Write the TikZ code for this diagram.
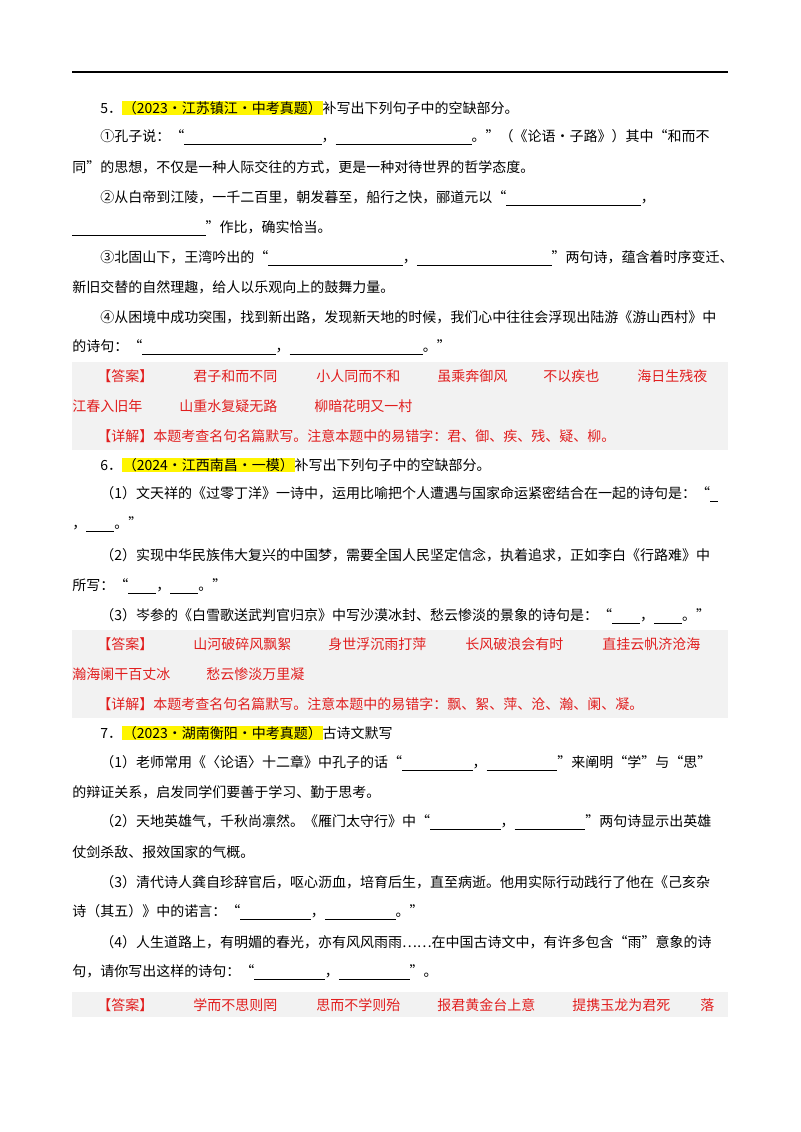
\documentclass[tikz,border=0pt]{standalone}
\usepackage{fontspec}
\setmainfont{Noto Sans CJK SC}
\definecolor{ans}{RGB}{225,30,30}
\definecolor{bg}{RGB}{242,242,242}
\definecolor{hl}{RGB}{255,245,0}
\newcommand\bl[1]{\rule[-2pt]{#1}{0.5pt}}
\newcommand\hlt[1]{{\setlength\fboxsep{0.6pt}\colorbox{hl}{#1}}}
\begin{document}
\begin{tikzpicture}[x=0.75pt,y=-0.75pt,
  t/.style={anchor=west,inner sep=0pt,font=\fontsize{10.5pt}{12pt}\selectfont},
  a/.style={t,text=ans}]
\useasboundingbox (0,0) rectangle (800,1132);
\fill[white] (0,0) rectangle (800,1132);
\draw[line width=0.8pt] (72,72) -- (728,72);
\fill[bg] (72,362) rectangle (728,450);
\fill[bg] (72,630) rectangle (728,718);
\fill[bg] (72,992) rectangle (728,1017);
% Q5
\node[t] (q5) at (100,108) {5．\hlt{（2023·江苏镇江·中考真题）}补写出下列句子中的空缺部分。};
\node[t] (l1) at (100,137) {①孔子说：“\bl{103pt}，\bl{102pt}。”（《论语·子路》）其中“和而不};
\node[t] (l2) at (72,167) {同”的思想，不仅是一种人际交往的方式，更是一种对待世界的哲学态度。};
\node[t] (l3) at (100,198) {②从白帝到江陵，一千二百里，朝发暮至，船行之快，郦道元以“\bl{101pt}，};
\node[t] (l4) at (72,228) {\bl{100pt}”作比，确实恰当。};
\node[t] (l5) at (100,258) {③北固山下，王湾吟出的“\bl{101pt}，\bl{101pt}”两句诗，蕴含着时序变迁、};
\node[t] (l6) at (72,287) {新旧交替的自然理趣，给人以乐观向上的鼓舞力量。};
\node[t] (l7) at (100,317) {④从困境中成功突围，找到新出路，发现新天地的时候，我们心中往往会浮现出陆游《游山西村》中};
\node[t] (l8) at (72,347) {的诗句：“\bl{100pt}，\bl{100pt}。”};
\node[a] (a5) at (97,376) {【答案】};
\node[a] (a51) at (193,376) {君子和而不同};
\node[a] (a52) at (316,376) {小人同而不和};
\node[a] (a53) at (437,376) {虽乘奔御风};
\node[a] (a54) at (543,376) {不以疾也};
\node[a] (a55) at (637,376) {海日生残夜};
\node[a] (a56) at (72,406) {江春入旧年};
\node[a] (a57) at (179,406) {山重水复疑无路};
\node[a] (a58) at (314,406) {柳暗花明又一村};
\node[a] (d5) at (97,436) {【详解】本题考查名句名篇默写。注意本题中的易错字：君、御、疾、残、疑、柳。};
% Q6
\node[t] (q6) at (100,465) {6．\hlt{（2024·江西南昌·一模）}补写出下列句子中的空缺部分。};
\node[t] (m1) at (100,494) {（1）文天祥的《过零丁洋》一诗中，运用比喻把个人遭遇与国家命运紧密结合在一起的诗句是：“\bl{6pt}};
\node[t] (m2) at (72,524) {，\bl{21pt}。”};
\node[t] (m3) at (100,555) {（2）实现中华民族伟大复兴的中国梦，需要全国人民坚定信念，执着追求，正如李白《行路难》中};
\node[t] (m4) at (72,586) {所写：“\bl{21pt}，\bl{21pt}。”};
\node[t] (m5) at (100,616) {（3）岑参的《白雪歌送武判官归京》中写沙漠冰封、愁云惨淡的景象的诗句是：“\bl{21pt}，\bl{21pt}。”};
\node[a] (a6) at (97,644) {【答案】};
\node[a] (a61) at (193,644) {山河破碎风飘絮};
\node[a] (a62) at (328,644) {身世浮沉雨打萍};
\node[a] (a63) at (465,644) {长风破浪会有时};
\node[a] (a64) at (602,644) {直挂云帆济沧海};
\node[a] (a65) at (72,674) {瀚海阑干百丈冰};
\node[a] (a66) at (206,674) {愁云惨淡万里凝};
\node[a] (d6) at (97,704) {【详解】本题考查名句名篇默写。注意本题中的易错字：飘、絮、萍、沧、瀚、阑、凝。};
% Q7
\node[t] (q7) at (100,733) {7．\hlt{（2023·湖南衡阳·中考真题）}古诗文默写};
\node[t] (k1) at (100,763) {（1）老师常用《〈论语〉十二章》中孔子的话“\bl{53pt}，\bl{53pt}”来阐明“学”与“思”};
\node[t] (k2) at (72,792) {的辩证关系，启发同学们要善于学习、勤于思考。};
\node[t] (k3) at (100,822) {（2）天地英雄气，千秋尚凛然。《雁门太守行》中“\bl{53pt}，\bl{53pt}”两句诗显示出英雄};
\node[t] (k4) at (72,852) {仗剑杀敌、报效国家的气概。};
\node[t] (k5) at (100,882) {（3）清代诗人龚自珍辞官后，呕心沥血，培育后生，直至病逝。他用实际行动践行了他在《己亥杂};
\node[t] (k6) at (72,912) {诗（其五）》中的诺言：“\bl{53pt}，\bl{53pt}。”};
\node[t] (k7) at (100,942) {（4）人生道路上，有明媚的春光，亦有风风雨雨……在中国古诗文中，有许多包含“雨”意象的诗};
\node[t] (k8) at (72,972) {句，请你写出这样的诗句：“\bl{53pt}，\bl{53pt}”。};
\node[a] (a7) at (97,1005) {【答案】};
\node[a] (a71) at (193,1005) {学而不思则罔};
\node[a] (a72) at (316,1005) {思而不学则殆};
\node[a] (a73) at (437,1005) {报君黄金台上意};
\node[a] (a74) at (572,1005) {提携玉龙为君死};
\node[a] (a75) at (700,1005) {落};
\end{tikzpicture}
\end{document}
